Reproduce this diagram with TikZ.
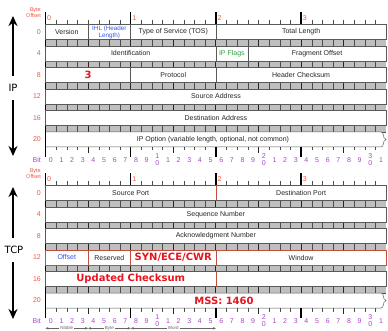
\documentclass[tikz,border=0pt]{standalone}
\usepackage{fontspec}
\setmainfont{Liberation Sans}
\newfontfamily\dejavu{DejaVu Sans}
\usepackage{tikz}
\usetikzlibrary{arrows.meta,positioning}
\definecolor{offred}{HTML}{F2553F}
\definecolor{bitpurple}{HTML}{A447C4}
\definecolor{ihlblue}{HTML}{3355EE}
\definecolor{flaggreen}{HTML}{2EA043}
\definecolor{notered}{HTML}{E8141E}
\definecolor{edgered}{HTML}{C0503C}
\newcommand\fsz{\fontsize{7}{7.5}\selectfont}
\newcommand\tsz{\fontsize{5.5}{6}\selectfont}
\newcommand\notefont{\dejavu\bfseries\fontsize{10}{12}\selectfont}
\def\bw{10.65}
\def\xo{45.5}

\begin{document}
\begin{tikzpicture}[x=1pt,y=-1pt,
  fieldline/.style={draw=black!65,fill=white,line width=0.5pt},
  field/.style={fieldline,minimum height=15pt,inner sep=0pt,outer sep=0pt,anchor=north west,font=\fsz,text=black!85},
  bits/.style={minimum width={#1*\bw*1pt}},
  note/.style={font=\notefont,text=notered},
  offs/.style={font=\fsz,text=offred,inner sep=0pt},
  bitlbl/.style={font=\fsz,text=bitpurple,inner sep=0pt},
  rtick/.style={black!70,line width=0.5pt},
  ntick/.style={black!85,line width=0.9pt},
  btick/.style={black,line width=1.4pt},
  bandfill/.style={fill=gray!50},
  bandline/.style={black!70,line width=0.6pt},
  side/.style={font=\dejavu\fontsize{10}{12}\selectfont,inner sep=0pt,minimum height=24pt},
  bigarrow/.style={line width=1.6pt,-{Stealth[length=10pt,width=9pt]}},
  scalelbl/.style={font=\fontsize{4.5}{5}\selectfont,text=black!60,fill=white,inner sep=0.8pt},
  scalearrow/.style={black!60,line width=0.5pt,-{Stealth[length=3pt,width=2.5pt]}}]
\useasboundingbox (0,0) rectangle (388,331);

\foreach \yo/\hd in {0/ip,161/tcp}{
  \node[offs,font=\tsz,align=right,anchor=east] (byte-\hd) at (41,\yo+13) {Byte\\Offset};
  \foreach \b in {1,...,31}
    \draw[rtick] ({\xo+\b*\bw},\yo+24.5) -- ++(0,-4.5);
  \foreach \B in {0,...,3}{
    \draw[btick] ({\xo+\B*8*\bw},\yo+24.5) -- ++(0,-12);
    \node[offs,anchor=west] (top-\hd-\B) at ({\xo+\B*8*\bw+1.5},\yo+18.5) {\B};
  }
  \foreach \r in {0,...,5}{
    \pgfmathtruncatemacro\off{4*\r}
    \node[offs,anchor=east] (off-\hd-\r) at (41,{\yo+32+\r*21.5}) {\off};
  }
  \foreach \r in {0,...,4}{
    \pgfmathsetmacro\bt{\yo+39.5+\r*21.5}
    \fill[bandfill] (\xo,\bt) rectangle ({\xo+32*\bw},\bt+6.5);
    \foreach \b in {1,...,31}{
      \pgfmathtruncatemacro\nb{mod(\b,4)}
      \ifnum\nb=0
        \draw[ntick] ({\xo+\b*\bw},\bt) -- ++(0,6.5);
      \else
        \draw[rtick] ({\xo+\b*\bw},\bt) -- ++(0,6.5);
      \fi
    }
    \draw[bandline] (\xo,\bt) -- ++({32*\bw},0) (\xo,\bt+6.5) -- ++({32*\bw},0);
  }
  \pgfmathsetmacro\wt{\yo+132}
  \draw[fieldline] (\xo,\wt) -- (381,\wt) .. controls (384.5,\wt) and (382,\wt+6) .. (386,\wt+7.5)
    .. controls (382,\wt+9) and (384.5,\wt+15) .. (381,\wt+15) -- (\xo,\wt+15) -- cycle;
  \pgfmathsetmacro\rb{\yo+147}
  \foreach \b in {1,...,31}{
    \pgfmathtruncatemacro\nb{mod(\b,4)}
    \pgfmathtruncatemacro\yb{mod(\b,8)}
    \ifnum\yb=0
      \draw[btick] ({\xo+\b*\bw},\rb) -- ++(0,10);
    \else\ifnum\nb=0
      \draw[ntick] ({\xo+\b*\bw},\rb) -- ++(0,6);
    \else
      \draw[rtick] ({\xo+\b*\bw},\rb) -- ++(0,3.5);
    \fi\fi
  }
  \draw[btick] (\xo,\yo+12.5) -- (\xo,\yo+157);
  \node[bitlbl,anchor=east] (bit-\hd) at (41,\yo+160) {Bit};
  \foreach \b in {0,...,31}{
    \pgfmathtruncatemacro\dg{mod(\b,10)}
    \pgfmathtruncatemacro\tn{\b/10}
    \ifnum\b>0\ifnum\dg=0
      \node[bitlbl,align=center,font=\fontsize{7}{7}\selectfont] (bit-\hd-\b) at ({\xo+(\b+0.5)*\bw},\yo+160) {\tn\\0};
    \else
      \node[bitlbl] (bit-\hd-\b) at ({\xo+(\b+0.5)*\bw},\yo+160) {\dg};
    \fi\else
      \node[bitlbl] (bit-\hd-\b) at ({\xo+(\b+0.5)*\bw},\yo+160) {\dg};
    \fi
  }
}

\node[field,bits=4] (ver) at (\xo,24.5) {Version};
\node[field,bits=4,text=ihlblue,align=center,font=\fontsize{6.3}{7}\selectfont] (ihl) at (ver.north east) {IHL (Header\\Length)};
\node[field,bits=8] (tos) at (ihl.north east) {Type of Service (TOS)};
\node[field,bits=16] (tlen) at (tos.north east) {Total Length};
\node[field,bits=16] (ident) at (\xo,46) {Identification};
\node[field,bits=3,text=flaggreen] (ipflags) at (ident.north east) {IP Flags};
\node[field,bits=13] (frag) at (ipflags.north east) {Fragment Offset};
\draw[edgered,line width=0.6pt] (ident.south west) -- (ident.south east);
\node[field,bits=8,note] (ttl) at (\xo,67.5) {3};
\node[field,bits=8] (proto) at (ttl.north east) {Protocol};
\node[field,bits=16] (hcs) at (proto.north east) {Header Checksum};
\node[field,bits=32] (srcaddr) at (\xo,89) {Source Address};
\node[field,bits=32] (dstaddr) at (\xo,110.5) {Destination Address};
\node[font=\fsz,text=black!85,inner sep=0pt] (ipopt) at (213,139.5) {IP Option (variable length, optional, not common)};

\node[field,bits=16] (sport) at (\xo,185.5) {Source Port};
\node[field,bits=16] (dport) at (sport.north east) {Destination Port};
\draw[edgered,line width=0.6pt] (sport.north east) -- (sport.south east);
\node[field,bits=32] (seqno) at (\xo,207) {Sequence Number};
\node[field,bits=32] (ackno) at (\xo,228.5) {Acknowledgment Number};
\node[field,bits=4,draw=edgered,text=ihlblue] (tcpoff) at (\xo,250) {Offset};
\node[field,bits=4,draw=edgered] (rsvd) at (tcpoff.north east) {Reserved};
\node[field,bits=8,draw=edgered,note] (tcpflags) at (rsvd.north east) {SYN/ECE/CWR};
\node[field,bits=16,draw=edgered] (window) at (tcpflags.north east) {Window};
\node[field,bits=16,note] (tcpcs) at (\xo,271.5) {Updated Checksum};
\node[field,bits=16] (urgptr) at (tcpcs.north east) {};
\draw[edgered,line width=0.6pt] (tcpcs.north east) -- (tcpcs.south east);
\node[note,inner sep=0pt] (mss) at (224,300.5) {MSS: 1460};

\node[side] (iplbl) at (13,88) {IP};
\coordinate (iptop) at (13,16);
\coordinate (ipbot) at (13,156);
\draw[bigarrow] (iplbl.north) -- (iptop);
\draw[bigarrow] (iplbl.south) -- (ipbot);
\node[side] (tcplbl) at (14,250) {TCP};
\coordinate (tcptop) at (13,187);
\coordinate (tcpbot) at (13,319);
\draw[bigarrow] (tcplbl.north -| tcptop) -- (tcptop);
\draw[bigarrow] (tcplbl.south -| tcpbot) -- (tcpbot);

\node[scalelbl] (nibble) at ({\xo+2*\bw},328.3) {Nibble};
\node[scalelbl] (bytelbl) at ({\xo+6*\bw},328.3) {Byte};
\node[scalelbl] (wordlbl) at ({\xo+12*\bw},328.3) {Word};
\coordinate (nib-l) at (\xo,328.3);
\coordinate (nib-r) at ({\xo+4*\bw},328.3);
\coordinate (byt-r) at ({\xo+8*\bw},328.3);
\coordinate (wrd-r) at ({\xo+16*\bw},328.3);
\draw[scalearrow] (nibble.west |- nib-l) -- (nib-l);
\draw[scalearrow] (nibble.east |- nib-r) -- (nib-r);
\draw[scalearrow] (bytelbl.west |- nib-r) -- (nib-r);
\draw[scalearrow] (bytelbl.east |- byt-r) -- (byt-r);
\draw[scalearrow] (wordlbl.west |- byt-r) -- (byt-r);
\draw[scalearrow] (wordlbl.east |- wrd-r) -- (wrd-r);
\end{tikzpicture}
\end{document}
